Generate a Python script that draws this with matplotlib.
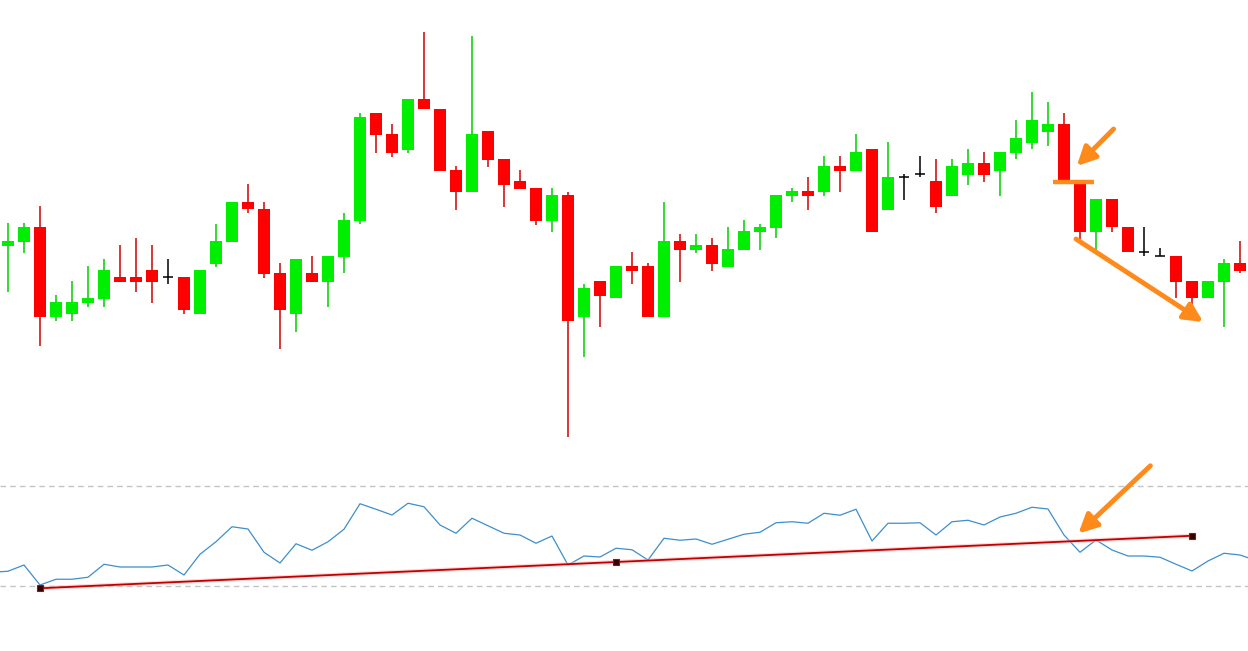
import numpy as np
import matplotlib
matplotlib.use("Agg")
import matplotlib.pyplot as plt

# candle data (price points), one entry per bar
opens = [254, 258, 273, 183, 186, 197, 201, 223, 223, 230, 223, 223, 186, 236, 258, 298, 291, 227, 186, 227,
         218, 243, 279, 387, 366, 350, 401, 391, 330, 308, 369, 341, 319, 312, 279, 305, 183, 219, 202, 234,
         234, 183, 259, 250, 255, 233, 250, 268, 272, 304, 309, 308, 334, 329, 351, 290, 323, 326, 319, 304,
         325, 337, 329, 347, 357, 368, 376, 316, 268, 301, 273, 248, 244, 244, 219, 202, 218, 237]
highs = [277, 277, 294, 205, 219, 234, 241, 255, 262, 255, 241, 223, 230, 276, 298, 316, 298, 237, 241, 244,
         244, 287, 387, 387, 376, 401, 468, 391, 334, 464, 369, 341, 330, 312, 312, 308, 216, 219, 234, 248,
         237, 298, 266, 266, 262, 273, 280, 276, 305, 312, 323, 344, 344, 366, 351, 358, 326, 344, 341, 341,
         351, 348, 348, 380, 408, 398, 387, 316, 301, 301, 273, 273, 252, 244, 219, 219, 241, 259]
lows = [208, 247, 154, 179, 179, 193, 193, 218, 208, 197, 216, 186, 186, 233, 258, 287, 222, 151, 168, 218,
        193, 227, 276, 347, 343, 347, 391, 329, 290, 308, 333, 293, 311, 275, 268, 63, 143, 173, 202, 216,
        183, 183, 218, 247, 229, 233, 250, 250, 262, 298, 290, 304, 308, 329, 268, 290, 300, 323, 287, 304,
        315, 318, 304, 341, 351, 354, 320, 261, 250, 268, 248, 244, 244, 202, 193, 202, 173, 227]
closes = [259, 273, 183, 198, 198, 202, 230, 218, 218, 218, 223, 190, 230, 259, 298, 291, 226, 190, 241, 218,
          244, 280, 383, 365, 347, 401, 391, 329, 308, 366, 340, 315, 311, 279, 305, 179, 212, 204, 234, 229,
          183, 259, 250, 255, 236, 251, 269, 273, 305, 309, 304, 334, 329, 348, 268, 323, 323, 326, 293, 334,
          337, 325, 348, 362, 380, 376, 320, 268, 301, 273, 248, 248, 244, 218, 202, 219, 237, 229]

# oscillator below the price panel (one value before the first bar and one after the last)
osc = [35.3, 35.7, 38.2, 30.2, 32.5, 32.5, 33.3, 38.5, 37.4, 37.4, 37.4, 38.2, 34.2, 42.5, 47.5, 53.5, 52.6,
       43.3, 39.0, 46.7, 44.1, 47.5, 52.5, 62.7, 60.5, 58.2, 62.9, 61.5, 54.2, 50.9, 56.9, 53.9, 50.9,
       50.2, 46.9, 49.8, 38.2, 41.8, 41.4, 44.9, 44.3, 40.2, 48.9, 48.1, 48.6, 46.5, 48.5, 50.5, 51.3,
       55.1, 55.5, 54.9, 58.9, 58.1, 60.5, 47.8, 54.9, 54.9, 55.1, 50.2, 55.5, 56.1, 54.2, 57.4, 58.9,
       61.3, 60.6, 50.2, 43.3, 48.2, 44.2, 41.8, 41.8, 41.3, 38.5, 35.8, 39.8, 42.9, 42.2, 40.0]
levels = [30, 70]
trend_idx = [2, 38, 74]
trend_val = [28.9, 39.4, 49.9]

UP = "#00ee00"
DOWN = "#ff0000"
ORANGE = "#ff8a1c"

opens, highs, lows, closes = map(np.array, (opens, highs, lows, closes))
x = np.arange(len(opens))
x_osc = np.arange(-1, len(osc) - 1)

fig = plt.figure(figsize=(12.48, 6.51), dpi=100)
ax = fig.add_axes([0, 0, 1, 1])
ax.set_xlim(-0.5, 77.5)
ax.set_ylim(-151, 500)
ax.axis("off")

up = closes > opens
down = closes < opens
doji = closes == opens

ax.vlines(x[up], lows[up], highs[up], color="#00cc00", lw=1.1, zorder=2)
ax.vlines(x[down], lows[down], highs[down], color="#d00000", lw=1.1, zorder=2)
ax.vlines(x[doji], lows[doji], highs[doji], color="black", lw=1.1, zorder=2)
ax.bar(x[up], closes[up] - opens[up], bottom=opens[up], width=0.69, color=UP, zorder=3)
ax.bar(x[down], closes[down] - opens[down], bottom=opens[down], width=0.69, color=DOWN, zorder=3)
ax.hlines(opens[doji], x[doji] - 0.34, x[doji] + 0.34, color="black", lw=1.1, zorder=3)

# orange markup on the price panel
arrow = dict(arrowstyle="-|>", color=ORANGE, lw=3.5, mutation_scale=28, shrinkA=0, shrinkB=0)
ax.annotate("", xy=(66.8, 334), xytext=(69.1, 371), arrowprops=arrow)
ax.hlines(318, 65.3, 67.9, color=ORANGE, lw=3.2, zorder=4)
ax.annotate("", xy=(74.7, 178), xytext=(66.75, 261), arrowprops=arrow)

# oscillator panel
ax2 = fig.add_axes([0, 41 / 651, 1, 150 / 651])
ax2.set_xlim(-0.5, 77.5)
ax2.set_ylim(20.2, 80.2)
ax2.axis("off")
for lv in levels:
    ax2.axhline(lv, color="#c4c4c4", lw=1.0, ls=(0, (4, 3)))
ax2.plot(x_osc, osc, color="#3d8fcc", lw=0.9)
ax2.plot(trend_idx, trend_val, color="#ffb0b0", lw=3.0, alpha=0.5)
ax2.plot(trend_idx, trend_val, color="#c00000", lw=1.3, marker="s", ms=4,
         mfc="#300000", mec="#c00000", mew=0.8)
ax2.annotate("", xy=(66.9, 50.8), xytext=(71.4, 77.9), arrowprops=arrow, annotation_clip=False)

fig.savefig("out.png", dpi=100)
